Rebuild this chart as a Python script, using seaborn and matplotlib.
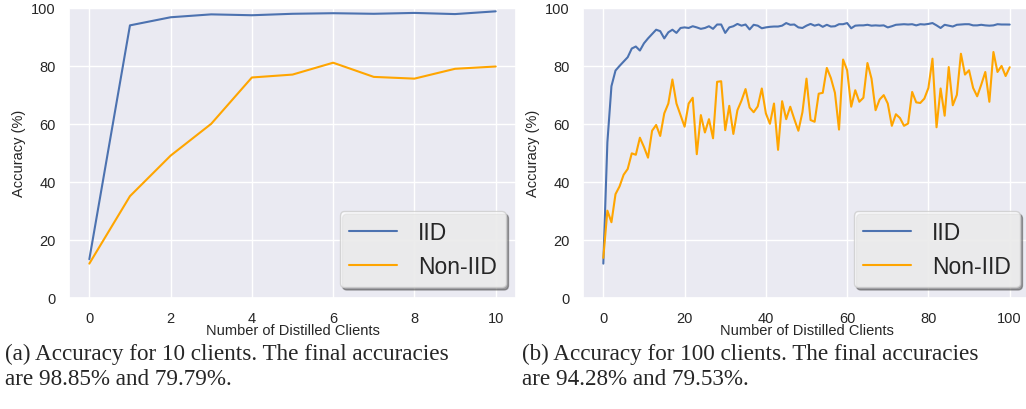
import numpy as np
import pandas as pd
import seaborn as sns
import matplotlib.pyplot as plt

# accuracy (%)
clients_10 = list(range(11))
iid_10 = [13.2, 94.0, 96.8, 97.8, 97.5, 98.0, 98.2, 98.0, 98.3, 97.9, 98.85]
noniid_10 = [11.7, 35.0, 49.0, 60.0, 76.0, 77.0, 81.1, 76.2, 75.6, 79.0, 79.79]

clients_100 = list(range(101))
iid_100 = [
    11.7, 53.6, 73.0, 78.4, 80.0, 81.5, 83.0, 86.0, 86.7, 85.3,
    87.8, 89.5, 91.0, 92.5, 92.0, 89.5, 91.6, 92.5, 91.4, 93.1,
    93.3, 93.1, 93.7, 93.3, 92.8, 93.1, 93.7, 92.8, 94.3, 94.3,
    91.4, 93.3, 93.7, 94.5, 93.9, 94.3, 92.6, 94.2, 93.9, 93.0,
    93.3, 93.5, 93.6, 93.6, 93.9, 94.8, 94.2, 94.3, 93.3, 93.1,
    93.9, 94.5, 93.9, 94.3, 93.5, 94.2, 93.6, 93.7, 94.4, 94.4,
    94.8, 93.0, 93.9, 94.0, 94.0, 94.2, 93.9, 94.0, 93.9, 94.0,
    93.3, 93.7, 94.2, 94.3, 94.4, 94.3, 94.4, 94.0, 94.4, 94.3,
    94.5, 94.8, 94.0, 93.1, 94.2, 93.9, 93.6, 94.2, 94.3, 94.4,
    94.4, 94.0, 94.0, 94.2, 94.0, 93.9, 94.0, 94.4, 94.3, 94.3,
    94.28]
noniid_100 = [
    13.7, 30.0, 26.0, 35.7, 38.4, 42.4, 44.4, 49.8, 49.3, 55.2,
    52.0, 48.3, 57.6, 59.6, 55.8, 63.6, 67.0, 75.3, 67.0, 63.0,
    59.0, 67.0, 69.0, 49.5, 63.0, 57.0, 61.6, 55.0, 74.5, 74.7,
    57.8, 66.2, 56.5, 64.7, 68.0, 72.0, 65.6, 64.0, 66.0, 72.2,
    63.6, 60.0, 67.0, 51.0, 67.8, 61.6, 65.9, 61.6, 57.6, 64.0,
    75.6, 61.3, 60.7, 70.4, 70.7, 79.3, 75.8, 70.7, 58.0, 82.2,
    78.5, 65.9, 71.6, 67.6, 69.0, 81.0, 75.6, 64.7, 68.4, 69.9,
    67.0, 59.3, 63.3, 62.0, 59.3, 60.1, 71.0, 67.4, 67.2, 68.7,
    72.4, 82.5, 58.8, 72.2, 62.8, 79.6, 66.4, 70.0, 84.2, 77.0,
    78.5, 72.4, 69.5, 73.5, 77.9, 67.6, 84.8, 77.9, 80.0, 76.5,
    79.53]

series_names = ['IID', 'Non-IID']
colors = ['#4c72b0', 'orange']
captions = ['(a) Accuracy for 10 clients. The final accuracies\nare 98.85% and 79.79%.',
            '(b) Accuracy for 100 clients. The final accuracies\nare 94.28% and 79.53%.']

sns.set_theme(style='darkgrid')
plt.rcParams['font.family'] = ['Liberation Sans', 'DejaVu Sans']

fig, axes = plt.subplots(1, 2, figsize=(10.26, 4.10), dpi=100)

panels = [(clients_10, iid_10, noniid_10, [0, 2, 4, 6, 8, 10]),
          (clients_100, iid_100, noniid_100, [0, 20, 40, 60, 80, 100])]

for ax, (x, iid, noniid, xt) in zip(axes, panels):
    df = pd.DataFrame({'clients': x * 2,
                       'acc': iid + noniid,
                       'setting': [series_names[0]] * len(x) + [series_names[1]] * len(x)})
    sns.lineplot(data=df, x='clients', y='acc', hue='setting', palette=colors,
                 linewidth=1.5, ax=ax)
    ax.set_ylim(0, 100)
    ax.set_yticks([0, 20, 40, 60, 80, 100])
    ax.set_xticks(xt)
    ax.tick_params(labelsize=10.5, colors='#262626')
    ax.set_xlabel('Number of Distilled Clients', fontsize=10.5, labelpad=-1)
    ax.set_ylabel('Accuracy (%)', fontsize=10.5)
    ax.legend(loc='lower right', fontsize=16.5, frameon=True, shadow=True, fancybox=True,
              facecolor='white', framealpha=0.8, edgecolor='0.8',
              handlelength=2.1, handletextpad=0.9, borderaxespad=0.45)

axes[0].set_position([69 / 1026, 111.5 / 410, 447 / 1026, 289.5 / 410])
axes[1].set_position([583 / 1026, 111.5 / 410, 447 / 1026, 289.5 / 410])

fig.text(5 / 1026, 1 - 344 / 410, captions[0], ha='left', va='top', fontsize=16.7,
         family='Liberation Serif', linespacing=1.25)
fig.text(522 / 1026, 1 - 344 / 410, captions[1], ha='left', va='top', fontsize=16.7,
         family='Liberation Serif', linespacing=1.25)

fig.savefig('out.png', dpi=100)
